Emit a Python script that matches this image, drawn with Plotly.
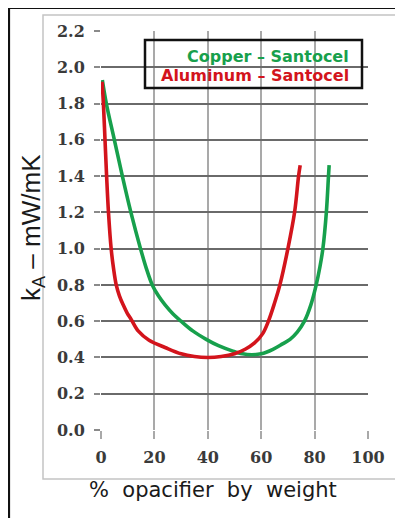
import plotly.graph_objects as go

# ---- data ----
copper_x = [0.5, 2, 5, 8, 11.2, 14.8, 17.0, 19.2, 21.5, 24.0, 27.0, 30.0, 34.5, 39.4, 44, 49.4, 53, 56.5, 60, 64.4, 68, 70.8, 73.5, 76.2, 78.6, 80.6, 82, 83.1, 84.4, 85.2, 85.45]
copper_y = [1.93, 1.80, 1.60, 1.40, 1.20, 1.00, 0.89, 0.80, 0.74, 0.69, 0.64, 0.60, 0.545, 0.50, 0.465, 0.435, 0.42, 0.415, 0.42, 0.445, 0.475, 0.50, 0.54, 0.60, 0.69, 0.80, 0.90, 1.00, 1.20, 1.40, 1.46]

alum_x = [0.4, 0.9, 1.5, 2.1, 2.8, 3.8, 4.7, 5.7, 6.9, 8.3, 9.8, 11.3, 14, 18, 24, 30, 35, 40, 45, 50, 54, 57.5, 60.5, 62.7, 65, 67, 70, 72.5, 74, 74.6]
alum_y = [1.92, 1.80, 1.60, 1.40, 1.20, 1.00, 0.89, 0.80, 0.74, 0.69, 0.645, 0.61, 0.545, 0.495, 0.455, 0.42, 0.405, 0.40, 0.405, 0.42, 0.445, 0.48, 0.53, 0.60, 0.70, 0.80, 1.00, 1.20, 1.40, 1.46]

x_ticks = [0, 20, 40, 60, 80, 100]
y_ticks = [0.0, 0.2, 0.4, 0.6, 0.8, 1.0, 1.2, 1.4, 1.6, 1.8, 2.0, 2.2]
y_ticklabels = [f"{v:.1f}" for v in y_ticks]

series_names = ["Copper – Santocel", "Aluminum – Santocel"]
GREEN = "#17a04c"
RED = "#d3141c"

# page offset (body margin) and figure geometry
OFF = 8
W, H = 395, 510
L, T = 93, 23
PW, PH = 267, 399
R, B = W - L - PW, H - T - PH


def px(p):
    """page pixel column -> paper x"""
    return (p - OFF - L) / PW


def py(q):
    """page pixel row -> paper y"""
    return (T + PH - (q - OFF)) / PH


fig = go.Figure()
fig.add_trace(go.Scatter(x=copper_x, y=copper_y, mode="lines", name=series_names[0],
                         line=dict(color=GREEN, width=3.6, shape="spline", smoothing=1.0),
                         showlegend=False))
fig.add_trace(go.Scatter(x=alum_x, y=alum_y, mode="lines", name=series_names[1],
                         line=dict(color=RED, width=3.6, shape="spline", smoothing=1.0),
                         showlegend=False))

tickfont = dict(family="DejaVu Serif", size=16, color="#3a3a3a", weight="bold")

fig.update_xaxes(range=[0, 100], tickvals=x_ticks, ticktext=[str(v) for v in x_ticks],
                 showgrid=True, gridcolor="#a9a9a9", gridwidth=1.5,
                 ticks="outside", ticklen=8, tickcolor="#a9a9a9", tickwidth=1.5,
                 showline=False, zeroline=False, tickfont=tickfont, ticklabelstandoff=5)
fig.update_yaxes(range=[0, 2.2], tickvals=y_ticks, ticktext=y_ticklabels,
                 showgrid=True, gridcolor="#6a6a6a", gridwidth=1.5,
                 ticks="outside", ticklen=6, tickcolor="#8a8a8a", tickwidth=1.5,
                 showline=False, zeroline=False, tickfont=tickfont, ticklabelstandoff=6)

shapes = [
    # outer black frame
    dict(type="rect", xref="paper", yref="paper", x0=px(9), x1=px(420), y0=py(540), y1=py(8),
         line=dict(color="#111111", width=2.2), layer="above"),
    # light gray inner frame
    dict(type="rect", xref="paper", yref="paper", x0=px(43), x1=px(401), y0=py(479), y1=py(15),
         line=dict(color="#c4c4c4", width=1.5), layer="below"),
    # legend box
    dict(type="rect", xref="paper", yref="paper", x0=px(145), x1=px(362), y0=py(88), y1=py(40),
         line=dict(color="#111111", width=2.5), layer="above"),
]

annotations = [
    dict(text="k<sub>A</sub> – mW/mK", xref="paper", yref="paper", x=px(32), y=py(228),
         textangle=-90, showarrow=False, xanchor="center", yanchor="middle",
         font=dict(family="Liberation Sans", size=26, color="#1a1a1a")),
    dict(text="%\u00a0 opacifier\u00a0 by\u00a0 weight", xref="paper", yref="paper", x=px(213), y=py(490),
         showarrow=False, xanchor="center", yanchor="middle",
         font=dict(family="DejaVu Sans", size=21, color="#1a1a1a")),
    dict(text=series_names[0], xref="paper", yref="paper", x=px(351), y=py(56),
         showarrow=False, xanchor="right", yanchor="middle",
         font=dict(family="DejaVu Sans", size=16, color=GREEN, weight="bold")),
    dict(text=series_names[1], xref="paper", yref="paper", x=px(351), y=py(75),
         showarrow=False, xanchor="right", yanchor="middle",
         font=dict(family="DejaVu Sans", size=16, color=RED, weight="bold")),
]

fig.update_layout(width=W, height=H, autosize=False,
                  margin=dict(l=L, r=R, t=T, b=B, pad=0),
                  paper_bgcolor="white", plot_bgcolor="white",
                  shapes=shapes, annotations=annotations, showlegend=False)

fig.write_html("out.html")
